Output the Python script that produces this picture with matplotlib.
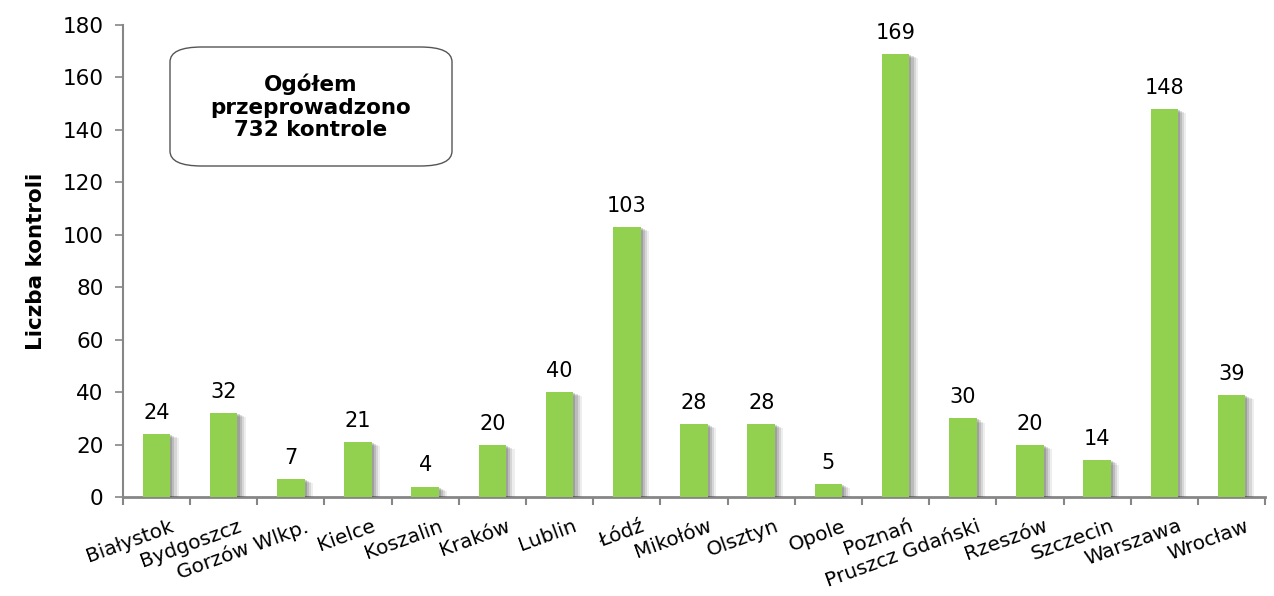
import matplotlib.pyplot as plt
import matplotlib.patheffects as pe
from matplotlib.patches import FancyBboxPatch
import numpy as np

plt.rcParams['font.family'] = ['DejaVu Sans']

miasta = ['Białystok', 'Bydgoszcz', 'Gorzów Wlkp.', 'Kielce', 'Koszalin', 'Kraków',
          'Lublin', 'Łódź', 'Mikołów', 'Olsztyn', 'Opole', 'Poznań',
          'Pruszcz Gdański', 'Rzeszów', 'Szczecin', 'Warszawa', 'Wrocław']
kontrole = [24, 32, 7, 21, 4, 20, 40, 103, 28, 28, 5, 169, 30, 20, 14, 148, 39]

fig = plt.figure(figsize=(12.74, 5.96), dpi=100)
ax = fig.add_axes([0.0965, 0.166, 0.8965, 0.792])

x = np.arange(len(miasta))
# miękki cień pod słupkami
cien = [pe.SimplePatchShadow(offset=(d, -d * 0.5), shadow_rgbFace='#303030', alpha=a)
        for d, a in [(6, 0.08), (4.5, 0.12), (3, 0.16), (1.5, 0.2)]]
bars = ax.bar(x, kontrole, width=0.41, color='#92D050', zorder=3)
for b in bars:
    b.set_path_effects(cien + [pe.Normal()])

for xi, v in zip(x, kontrole):
    ax.annotate(str(v), (xi, v), xytext=(0, 8), textcoords='offset points',
                ha='center', va='bottom', fontsize=15, color='black')

ax.set_xlim(-0.5, len(miasta) - 0.5)
ax.set_ylim(0, 180)
ax.set_yticks(range(0, 181, 20))
ax.tick_params(axis='y', labelsize=15.5, length=6, width=1.2, color='#868686', pad=8)

# znaczniki osi x na granicach kategorii
ax.set_xticks(np.arange(len(miasta) + 1) - 0.5)
ax.set_xticklabels([])
ax.tick_params(axis='x', length=6, width=1.5, color='#868686')
for xi, nazwa in zip(x, miasta):
    ax.annotate(nazwa, (xi + 0.2, 0), xycoords=('data', 'data'), xytext=(0, -14),
                textcoords='offset points', ha='right', va='top', rotation=20,
                rotation_mode='anchor', fontsize=14.5)

for s in ['top', 'right']:
    ax.spines[s].set_visible(False)
ax.spines['left'].set_color('#868686')
ax.spines['left'].set_linewidth(1.5)
ax.spines['bottom'].set_color('#868686')
ax.spines['bottom'].set_linewidth(2)

ax.set_ylabel('Liczba kontroli', fontsize=15.5, fontweight='bold', labelpad=12)

ramka = FancyBboxPatch((170 / 1274, 1 - 166 / 596), 282 / 1274, 119 / 596,
                       boxstyle='round,pad=0,rounding_size=0.025',
                       transform=fig.transFigure, facecolor='white',
                       edgecolor='#555555', linewidth=1, zorder=5)
fig.patches.append(ramka)
fig.text(311 / 1274, 1 - 107 / 596, 'Ogółem\nprzeprowadzono\n732 kontrole',
         ha='center', va='center', fontsize=15.5, fontweight='bold',
         linespacing=1.15, zorder=6)

fig.savefig('out.png', dpi=100)
